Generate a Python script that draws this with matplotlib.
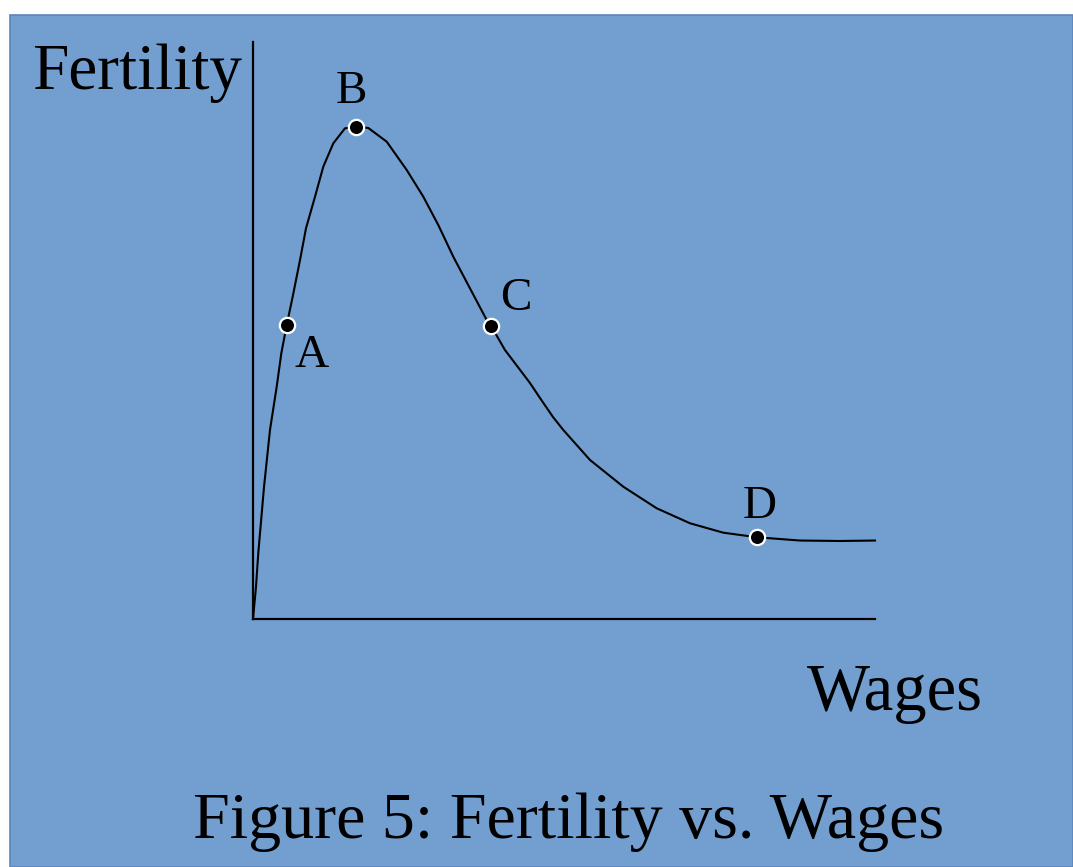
import matplotlib.pyplot as plt
from matplotlib.patches import Rectangle

# curve (wages 0-100, fertility 0-100)
wages = [0, 0.48, 0.85, 1.77, 2.73, 3.81, 4.55, 5.42, 6.38, 7.56, 8.52, 9.97,
         11.30, 12.91, 14.79, 16.56, 18.54, 21.50, 24.71, 27.38, 29.79, 32.20,
         37.57, 38.26, 40.51, 44.53, 46.14, 48.23, 49.89, 54.18, 59.53, 64.90, 70.26,
         75.61, 81.08, 87.94, 94.37, 100]
fertility = [0, 5.55, 11.44, 22.88, 32.76, 40.26, 46.05, 50.95, 55.86, 62.22, 67.71, 73.19,
             78.39, 82.44, 85.04, 85.32, 85.10, 82.72, 77.82, 73.19, 68.28, 62.79,
             51.82, 50.83, 46.62, 40.90, 38.30, 35.01, 32.76, 27.56, 22.93, 19.19, 16.59,
             14.96, 14.16, 13.60, 13.52, 13.60]

point_labels = ['A', 'B', 'C', 'D']
point_x = [5.42, 16.56, 38.26, 81.08]
point_y = [50.95, 85.32, 50.83, 14.16]
label_offsets = [(18, -30), (-3, 17), (18, 11), (2, 14)]

W, H = 1073, 867
fig = plt.figure(figsize=(W / 100, H / 100), dpi=100)
fig.patch.set_facecolor('white')
bg = Rectangle((10 / W, 0), 1 - 10 / W, (H - 15) / H, transform=fig.transFigure,
               facecolor='#729fcf', edgecolor='#5a86bd', linewidth=1.2, zorder=-10)
fig.add_artist(bg)

plt.rcParams['font.family'] = ['Liberation Serif', 'DejaVu Serif']

ax = fig.add_axes([253 / W, (H - 619) / H, 622 / W, 577 / H])
ax.set_zorder(5)
ax.set_facecolor('none')
ax.set_xlim(0, 100)
ax.set_ylim(0, 100)
ax.set_xticks([])
ax.set_yticks([])
for s in ['top', 'right']:
    ax.spines[s].set_visible(False)
for s in ['left', 'bottom']:
    ax.spines[s].set_linewidth(1.6)
    ax.spines[s].set_color('black')

ax.plot(wages, fertility, color='black', lw=1.5, clip_on=False, solid_joinstyle='round')
ax.plot(point_x, point_y, 'o', ms=11, mfc='black', mec='white', mew=1.6, clip_on=False, zorder=5)
for lab, px, py, off in zip(point_labels, point_x, point_y, label_offsets):
    ax.annotate(lab, (px, py), xytext=off, textcoords='offset points',
                ha='center', va='baseline', fontsize=34)

fig.text(32 / W, 1 - 89 / H, 'Fertility', fontsize=47, ha='left', va='baseline')
fig.text(983 / W, 1 - 710 / H, 'Wages', fontsize=48, ha='right', va='baseline')
fig.text(569 / W, 1 - 838 / H, 'Figure 5: Fertility vs. Wages', fontsize=47.5,
         ha='center', va='baseline')

fig.savefig('out.png', dpi=100)
